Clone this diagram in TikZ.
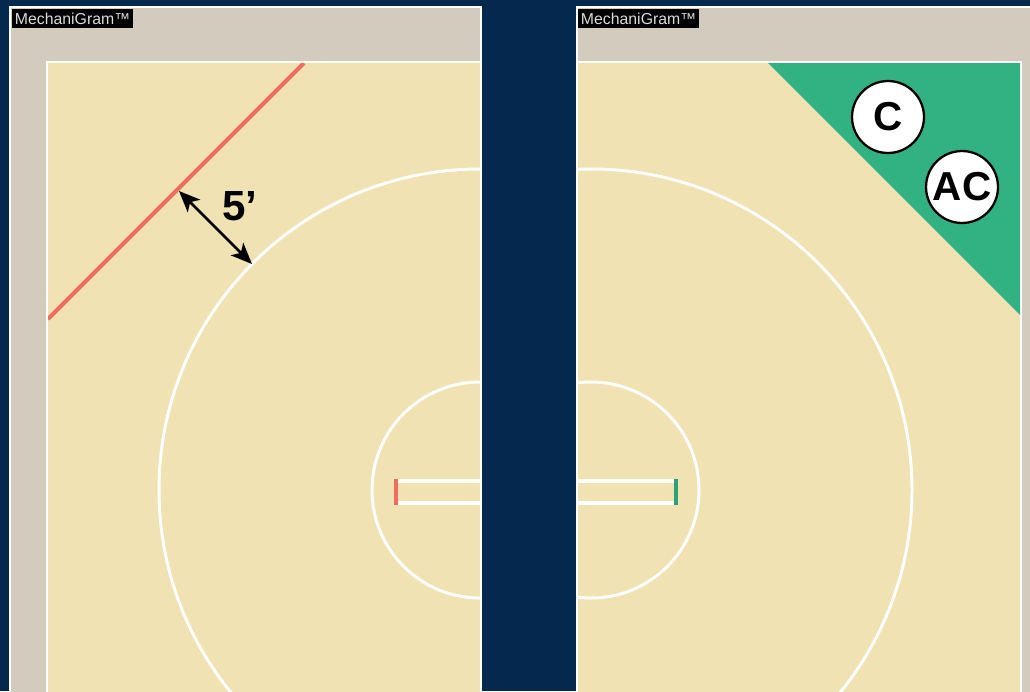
\documentclass[tikz,border=0pt]{standalone}
\usepackage{fontspec}
\setmainfont{Liberation Sans}
\usepackage{tikz}
\usetikzlibrary{arrows.meta}
\definecolor{cNavy}{RGB}{5,40,79}
\definecolor{cFrame}{RGB}{211,204,190}
\definecolor{cMat}{RGB}{240,226,178}
\definecolor{cRed}{RGB}{240,108,92}
\definecolor{cGreen}{RGB}{50,178,130}
\definecolor{cTag}{RGB}{220,220,220}

\begin{document}
\begin{tikzpicture}[
  x=0.02cm, y=-0.02cm,
  >={Stealth[length=12pt,width=10pt,inset=3pt]},
  panel/.style={fill=cFrame, draw=white, line width=1.1pt},
  mat/.style={fill=cMat, draw=white, line width=1.1pt},
  ring/.style={draw=white, line width=1.7pt},
  strip/.style={draw=white, line width=1.8pt},
  tick/.style={line width=2.2pt},
  tag/.style={
    fill=black, text=cTag, anchor=north west,
    inner xsep=1.5pt, inner ysep=2pt,
    font=\fontsize{9}{11}\selectfont
  },
  official/.style={
    circle, draw=black, fill=white, line width=1.3pt,
    minimum size=1.44cm, inner sep=0pt,
    font=\fontsize{23}{26}\selectfont\bfseries
  },
  dim/.style={<->, line width=1.6pt}
]

% Background
\useasboundingbox (0,0) rectangle (1030,691);
\clip (0,0) rectangle (1030,691);
\fill[cNavy] (0,0) rectangle (1030,691);

% Left panel
\draw[panel] (10,7) rectangle (481,720);
\draw[mat] (47,62) rectangle (481,720);
\begin{scope}
  \clip (48,63) rectangle (480,720);
  \draw[ring] (480,490) circle[radius=321];
  \draw[ring] (480,490) circle[radius=108];
  \draw[strip] (396,481) rectangle (495,503);
  \draw[tick, cRed] (396,479) -- (396,505);
  \draw[cRed, line width=2.4pt] (304,63) -- (48,319);
\end{scope}
\draw[white, line width=1.1pt] (481,7) -- (481,720);

% 5' spacing
\coordinate (edge5) at (179,191);
\coordinate (ring5) at (252,264);
\draw[dim] (edge5) -- (ring5);
\node[font=\fontsize{24}{26}\selectfont\bfseries] (five) at (240,206) {5’};

% Right panel
\draw[panel] (577,7) rectangle (1040,720);
\draw[mat] (577,62) rectangle (1021,720);
\begin{scope}
  \clip (578,63) rectangle (1020,720);
  \fill[cGreen] (768,63) -- (1020,63) -- (1020,315) -- cycle;
  \draw[ring] (591,490) circle[radius=321];
  \draw[ring] (591,490) circle[radius=108];
  \draw[strip] (570,481) rectangle (676,503);
  \draw[tick, cGreen!90!black] (676,479) -- (676,505);
\end{scope}
\draw[white, line width=1.1pt] (577,7) -- (577,720);

% Officials
\node[official] (c) at (888,117) {C};
\node[official] (ac) at (962,187) {AC};

% Tags
\node[tag] (tagL) at (12,9) {MechaniGram™};
\node[tag] (tagR) at (578,9) {MechaniGram™};

\end{tikzpicture}
\end{document}
